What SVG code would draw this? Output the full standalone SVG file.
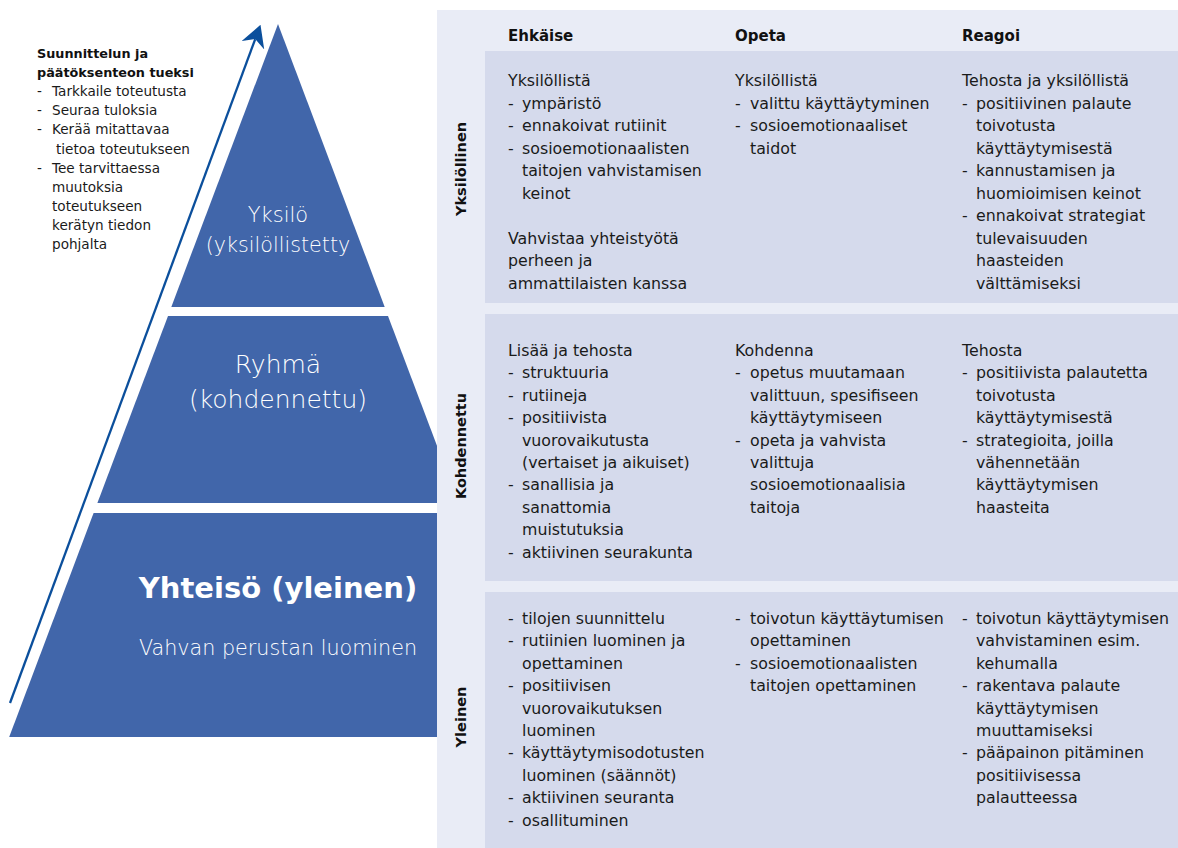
<svg xmlns="http://www.w3.org/2000/svg" width="1178" height="848" viewBox="0 0 1178 848">
<style>
.tier{fill:#4166AA}
.pt{fill:#FFFFFF;font-family:"DejaVu Sans",sans-serif;font-weight:200;text-anchor:middle}
.ptb{fill:#FFFFFF;font-family:"DejaVu Sans",sans-serif;font-weight:bold;text-anchor:middle}
.note{font-family:"DejaVu Sans",sans-serif;font-size:13.6px;fill:#1A1A1A}
.noteb{font-family:"DejaVu Sans",sans-serif;font-size:12.8px;font-weight:bold;fill:#111}
.hd{font-family:"DejaVu Sans",sans-serif;font-size:15px;font-weight:bold;fill:#111}
.t{font-family:"DejaVu Sans",sans-serif;font-size:15.8px;fill:#1A1A1A}
.rl{font-family:"DejaVu Sans",sans-serif;font-size:14.5px;font-weight:bold;fill:#111;text-anchor:middle}
.cell{fill:#D5DAEC}
</style>
<defs>
<marker id="ah" markerUnits="userSpaceOnUse" markerWidth="22" markerHeight="24" viewBox="0 0 20 22" refX="6" refY="11" orient="auto">
<path d="M0,0 L20,11 L0,22 L6,11 z" fill="#0B4F9C"/>
</marker>
</defs>
<rect width="1178" height="848" fill="#FFFFFF"/>

<g id="pyramid-top">
<polygon class="tier" points="278,24 384.7,307 171.3,307"/>
<text class="pt" x="278" y="222" font-size="21">Yksilö</text>
<text class="pt" x="278" y="252" font-size="20.7">(yksilöllistetty</text>
</g>
<g id="pyramid-middle">
<polygon class="tier" points="168,316 388,316 458.6,503 97.4,503"/>
<text class="pt" x="278" y="373" font-size="25">Ryhmä</text>
<text class="pt" x="278" y="408" font-size="25">(kohdennettu)</text>
</g>
<g id="pyramid-bottom">
<polygon class="tier" points="93.6,513 437,513 437,737 9.2,737"/>
<text class="ptb" x="278" y="598" font-size="29">Yhteisö (yleinen)</text>
<text class="pt" x="278" y="655" font-size="20.7">Vahvan perustan luominen</text>
</g>

<g id="connectors">
<line x1="10" y1="703" x2="255.2" y2="39.1" stroke="#0B4F9C" stroke-width="2.3" marker-end="url(#ah)"/>
</g>

<g id="planning-note">
<text class="noteb" x="37" y="58">Suunnittelun ja</text>
<text class="noteb" x="37" y="77">päätöksenteon tueksi</text>
<text class="note" x="37" y="96">-</text><text class="note" x="52" y="96">Tarkkaile toteutusta</text>
<text class="note" x="37" y="115">-</text><text class="note" x="52" y="115">Seuraa tuloksia</text>
<text class="note" x="37" y="134">-</text><text class="note" x="52" y="134">Kerää mitattavaa</text>
<text class="note" x="56" y="154">tietoa toteutukseen</text>
<text class="note" x="37" y="173">-</text><text class="note" x="52" y="173">Tee tarvittaessa</text>
<text class="note" x="52" y="192">muutoksia</text>
<text class="note" x="52" y="211">toteutukseen</text>
<text class="note" x="52" y="230">kerätyn tiedon</text>
<text class="note" x="52" y="249">pohjalta</text>
</g>

<g id="table">
<rect x="437" y="10" width="741" height="838" fill="#E9ECF6"/>
<rect class="cell" x="485" y="51" width="693" height="252"/>
<rect class="cell" x="485" y="314" width="693" height="267"/>
<rect class="cell" x="485" y="592" width="693" height="256"/>
</g>

<g id="headers">
<text class="hd" x="508" y="41">Ehkäise</text>
<text class="hd" x="735" y="41">Opeta</text>
<text class="hd" x="962" y="41">Reagoi</text>
</g>

<g id="row-labels">
<text class="rl" transform="translate(466,169) rotate(-90)">Yksilöllinen</text>
<text class="rl" transform="translate(466,446) rotate(-90)">Kohdennettu</text>
<text class="rl" transform="translate(466,717) rotate(-90)">Yleinen</text>
</g>

<g id="row1-ehkaise" class="t">
<text x="508" y="86">Yksilöllistä</text>
<text x="508" y="108.5">-</text><text x="522" y="108.5">ympäristö</text>
<text x="508" y="131">-</text><text x="522" y="131">ennakoivat rutiinit</text>
<text x="508" y="153.5">-</text><text x="522" y="153.5">sosioemotionaalisten</text>
<text x="522" y="176">taitojen vahvistamisen</text>
<text x="522" y="198.5">keinot</text>
<text x="508" y="243.5">Vahvistaa yhteistyötä</text>
<text x="508" y="266">perheen ja</text>
<text x="508" y="288.5">ammattilaisten kanssa</text>
</g>
<g id="row1-opeta" class="t">
<text x="735" y="86">Yksilöllistä</text>
<text x="735" y="108.5">-</text><text x="750" y="108.5">valittu käyttäytyminen</text>
<text x="735" y="131">-</text><text x="750" y="131">sosioemotionaaliset</text>
<text x="750" y="153.5">taidot</text>
</g>
<g id="row1-reagoi" class="t">
<text x="962" y="86">Tehosta ja yksilöllistä</text>
<text x="962" y="108.5">-</text><text x="976" y="108.5">positiivinen palaute</text>
<text x="976" y="131">toivotusta</text>
<text x="976" y="153.5">käyttäytymisestä</text>
<text x="962" y="176">-</text><text x="976" y="176">kannustamisen ja</text>
<text x="976" y="198.5">huomioimisen keinot</text>
<text x="962" y="221">-</text><text x="976" y="221">ennakoivat strategiat</text>
<text x="976" y="243.5">tulevaisuuden</text>
<text x="976" y="266">haasteiden</text>
<text x="976" y="288.5">välttämiseksi</text>
</g>

<g id="row2-ehkaise" class="t">
<text x="508" y="356">Lisää ja tehosta</text>
<text x="508" y="378.4">-</text><text x="522" y="378.4">struktuuria</text>
<text x="508" y="400.8">-</text><text x="522" y="400.8">rutiineja</text>
<text x="508" y="423.2">-</text><text x="522" y="423.2">positiivista</text>
<text x="522" y="445.6">vuorovaikutusta</text>
<text x="522" y="468">(vertaiset ja aikuiset)</text>
<text x="508" y="490.4">-</text><text x="522" y="490.4">sanallisia ja</text>
<text x="522" y="512.8">sanattomia</text>
<text x="522" y="535.2">muistutuksia</text>
<text x="508" y="557.6">-</text><text x="522" y="557.6">aktiivinen seurakunta</text>
</g>
<g id="row2-opeta" class="t">
<text x="735" y="356">Kohdenna</text>
<text x="735" y="378.4">-</text><text x="750" y="378.4">opetus muutamaan</text>
<text x="750" y="400.8">valittuun, spesifiseen</text>
<text x="750" y="423.2">käyttäytymiseen</text>
<text x="735" y="445.6">-</text><text x="750" y="445.6">opeta ja vahvista</text>
<text x="750" y="468">valittuja</text>
<text x="750" y="490.4">sosioemotionaalisia</text>
<text x="750" y="512.8">taitoja</text>
</g>
<g id="row2-reagoi" class="t">
<text x="962" y="356">Tehosta</text>
<text x="962" y="378.4">-</text><text x="976" y="378.4">positiivista palautetta</text>
<text x="976" y="400.8">toivotusta</text>
<text x="976" y="423.2">käyttäytymisestä</text>
<text x="962" y="445.6">-</text><text x="976" y="445.6">strategioita, joilla</text>
<text x="976" y="468">vähennetään</text>
<text x="976" y="490.4">käyttäytymisen</text>
<text x="976" y="512.8">haasteita</text>
</g>

<g id="row3-ehkaise" class="t">
<text x="508" y="624">-</text><text x="522" y="624">tilojen suunnittelu</text>
<text x="508" y="646.4">-</text><text x="522" y="646.4">rutiinien luominen ja</text>
<text x="522" y="668.8">opettaminen</text>
<text x="508" y="691.2">-</text><text x="522" y="691.2">positiivisen</text>
<text x="522" y="713.6">vuorovaikutuksen</text>
<text x="522" y="736">luominen</text>
<text x="508" y="758.4">-</text><text x="522" y="758.4">käyttäytymisodotusten</text>
<text x="522" y="780.8">luominen (säännöt)</text>
<text x="508" y="803.2">-</text><text x="522" y="803.2">aktiivinen seuranta</text>
<text x="508" y="825.6">-</text><text x="522" y="825.6">osallituminen</text>
</g>
<g id="row3-opeta" class="t">
<text x="735" y="624">-</text><text x="750" y="624">toivotun käyttäytumisen</text>
<text x="750" y="646.4">opettaminen</text>
<text x="735" y="668.8">-</text><text x="750" y="668.8">sosioemotionaalisten</text>
<text x="750" y="691.2">taitojen opettaminen</text>
</g>
<g id="row3-reagoi" class="t">
<text x="962" y="624">-</text><text x="976" y="624">toivotun käyttäytymisen</text>
<text x="976" y="646.4">vahvistaminen esim.</text>
<text x="976" y="668.8">kehumalla</text>
<text x="962" y="691.2">-</text><text x="976" y="691.2">rakentava palaute</text>
<text x="976" y="713.6">käyttäytymisen</text>
<text x="976" y="736">muuttamiseksi</text>
<text x="962" y="758.4">-</text><text x="976" y="758.4">pääpainon pitäminen</text>
<text x="976" y="780.8">positiivisessa</text>
<text x="976" y="803.2">palautteessa</text>
</g>
</svg>
